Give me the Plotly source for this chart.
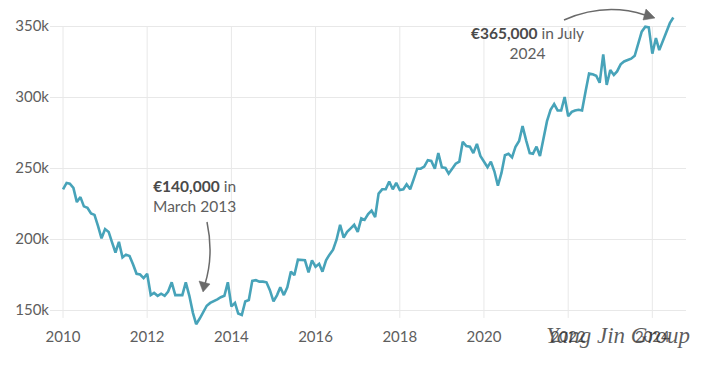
import pandas as pd
import plotly.graph_objects as go

# Monthly average price (thousand €), Jan 2010 .. Jul 2024
values_k = [
    235, 239.5, 239, 236, 226, 229.5, 223, 222, 218, 217, 209, 200.5,
    207, 205, 198, 190.5, 198, 187, 189, 188, 182, 175.5, 175, 172.5,
    175.5, 160.5, 162, 160, 161.5, 160, 163, 169.5, 160.5, 160.5, 160.5, 169.5,
    160, 148, 140, 144, 149, 153, 155, 156, 157.5, 159, 160, 169.5,
    152.5, 155, 147.5, 146.5, 156, 157, 170.5, 171, 170, 170, 169.5, 164,
    156, 160.5, 166, 160.5, 166, 177, 174.5, 185.5, 185, 185, 176.5, 185,
    180.5, 182.5, 177, 185, 189, 192.5, 199.5, 210, 201, 205, 207.5, 210,
    205, 214.5, 213.5, 217.5, 220, 215.5, 232, 235, 235, 240.5, 235, 239.5,
    234.5, 235, 238.5, 235, 242, 249.5, 249.5, 251, 255.5, 255, 249.5, 260.5,
    250.5, 250, 246, 250, 253, 254.5, 268.5, 265.5, 265, 260.5, 267, 258.5,
    254, 250.5, 254.5, 247.5, 237.5, 246.5, 259, 260, 257.5, 265, 269, 279.5,
    269.5, 260.5, 260, 265, 258.5, 270, 283, 291, 295, 290.5, 290.5, 300,
    286.5, 289.5, 290.5, 291, 290.5, 304, 316.5, 316, 315, 310, 330, 308.5,
    319, 315.5, 318, 323, 325, 326, 327, 329, 338, 346, 349.5, 349,
    330.5, 341.5, 333, 339, 346, 352, 356,
]
dates = pd.date_range("2010-01-01", periods=len(values_k), freq="MS")
tick_years = ["2010", "2012", "2014", "2016", "2018", "2020", "2022", "2024"]
y_ticks = [150, 200, 250, 300, 350]

LINE = "#47a3b9"
GRID = "#e8e8e8"
TXT = "#5e5e5e"
BOLD = "#4a4a4a"

fig = go.Figure()
fig.add_trace(go.Scatter(x=dates, y=values_k, mode="lines",
                         line=dict(color=LINE, width=2.6), hoverinfo="skip"))

# Plot-area pixel geometry -> paper coords helpers
L, R, T, B = 50, 686, 15, 326
def px(x):
    return (x - L) / (R - L)
def py(y):
    return (B - y) / (B - T)

shapes = []
# vertical gridlines (spanning 350k down to just below 150k)
for yr in tick_years:
    shapes.append(dict(type="line", xref="x", yref="y", x0=f"{yr}-01-01", x1=f"{yr}-01-01",
                       y0=144.4, y1=350, line=dict(color=GRID, width=1), layer="below"))

ARROW = "#6a6a6a"
# curved arrow 1
shapes.append(dict(type="path", xref="paper", yref="paper",
                   path=f"M {px(207)},{py(222)} Q {px(214)},{py(255)} {px(205)},{py(284)}",
                   line=dict(color=ARROW, width=1.5)))
shapes.append(dict(type="path", xref="paper", yref="paper",
                   path=f"M {px(203)},{py(292)} L {px(199)},{py(281)} L {px(210)},{py(284)} Z",
                   fillcolor=ARROW, line=dict(color=ARROW, width=0.5)))
# curved arrow 2
shapes.append(dict(type="path", xref="paper", yref="paper",
                   path=f"M {px(564)},{py(20)} Q {px(605)},{py(2)} {px(645)},{py(15)}",
                   line=dict(color=ARROW, width=1.5)))
shapes.append(dict(type="path", xref="paper", yref="paper",
                   path=f"M {px(655)},{py(18)} L {px(643)},{py(20)} L {px(646)},{py(9)} Z",
                   fillcolor=ARROW, line=dict(color=ARROW, width=0.5)))

annotations = [
    dict(xref="paper", yref="paper", x=px(194), y=py(196), showarrow=False,
         xanchor="center", yanchor="middle",
         text=f"<b><span style='color:{BOLD}'>€140,000</span></b> in<br>March 2013", align="center",
         font=dict(family="Lato", size=15.5, color=TXT)),
    dict(xref="paper", yref="paper", x=px(527), y=py(43), showarrow=False,
         xanchor="center", yanchor="middle",
         text=f"<b><span style='color:{BOLD}'>€365,000</span></b> in July<br>2024", align="center",
         font=dict(family="Lato", size=15.5, color=TXT)),
    dict(xref="paper", yref="paper", x=px(618), y=py(335), showarrow=False,
         xanchor="center", yanchor="middle",
         text="<i>Yang Jin Group</i>",
         font=dict(family="Liberation Serif", size=23, color="rgba(40,40,40,0.75)")),
]

fig.update_layout(
    width=702, height=366,
    margin=dict(l=L, r=702 - R, t=T, b=366 - B, autoexpand=False),
    paper_bgcolor="white", plot_bgcolor="white",
    showlegend=False,
    shapes=shapes, annotations=annotations,
    font=dict(family="Lato", size=15, color=TXT),
    xaxis=dict(type="date", range=["2009-09-10", "2024-10-19"], automargin=False,
               tickvals=[f"{y}-01-01" for y in tick_years], ticktext=tick_years,
               showgrid=False, zeroline=False, showline=False, ticks="",
               tickfont=dict(size=15, color=TXT)),
    yaxis=dict(range=[138.73, 357.75], tickvals=y_ticks, automargin=False,
               ticktext=[f"{v}k" for v in y_ticks],
               showgrid=True, gridcolor=GRID, gridwidth=1, zeroline=False,
               showline=False, ticks="", tickfont=dict(size=15, color=TXT)),
)

fig.write_html("out.html", config={"displayModeBar": False},
               post_script="document.body.style.margin='0';document.body.style.padding='0';")
